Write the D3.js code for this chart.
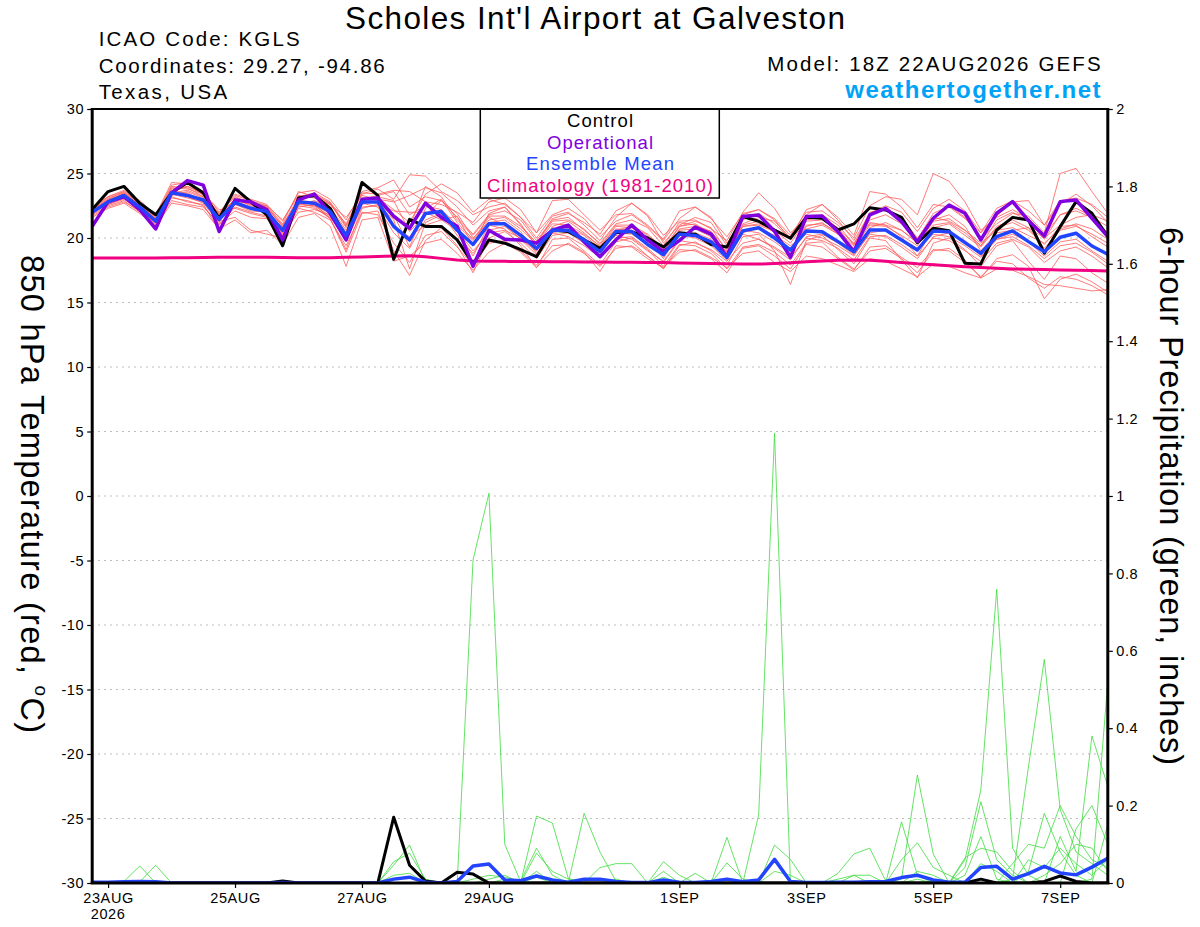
<!DOCTYPE html>
<html>
<head>
<meta charset="utf-8">
<script src="https://cdn.jsdelivr.net/npm/d3@7"></script>
<style>
  body { margin: 0; background: #fff; }
  svg { display: block; }
  text { font-family: "Liberation Sans", Arial, Helvetica, sans-serif; }
</style>
</head>
<body>
<svg id="chart" width="1200" height="927"></svg>
<script>

// model run 18Z 22AUG2026, 6-hourly steps out to 384h
var runStart = Date.UTC(2026, 7, 22, 18);
var stepCount = 65;

// 850 hPa temperature (C)
var tempControl = [22.2, 23.6, 24.0, 22.7, 21.8, 23.5, 24.3, 23.5, 21.5, 23.85,
  22.8, 21.8, 19.4, 23.1, 23.3, 22.3, 20.0, 24.3, 23.3, 18.35,
  21.45, 20.9, 20.9, 19.85, 18.0, 19.85, 19.6, 19.1, 18.55, 20.6,
  20.5, 19.85, 19.2, 20.4, 20.5, 20.0, 19.3, 20.4, 20.3, 19.5,
  19.3, 21.66, 21.3, 20.62, 19.98, 21.6, 21.53, 20.62, 21.09, 22.35,
  22.17, 21.6, 19.64, 20.75, 20.57, 18.04, 17.99, 20.62, 21.6, 21.4,
  18.82, 20.88, 22.82, 21.92, 20.11];

var tempOper = [20.9, 22.8, 23.2, 22.2, 20.7, 23.5, 24.45, 24.1, 20.5, 22.95,
  22.8, 22.2, 19.85, 22.95, 23.4, 21.9, 19.85, 23.0, 23.1, 21.7,
  20.75, 22.7, 21.6, 20.9, 17.8, 20.6, 19.9, 19.85, 19.6, 20.6,
  21.0, 19.7, 18.55, 19.85, 21.0, 19.85, 18.95, 19.8, 20.85, 20.3,
  18.55, 21.66, 21.79, 20.52, 18.5, 21.66, 21.71, 20.49, 18.94, 21.79,
  22.3, 21.27, 19.72, 21.53, 22.56, 21.92, 19.85, 21.92, 22.82, 21.35,
  20.16, 22.82, 22.95, 21.53, 20.11];

var tempMean = [22.0, 22.8, 23.3, 22.4, 21.3, 23.5, 23.3, 22.95, 21.45, 22.75,
  22.3, 22.05, 20.6, 22.8, 22.7, 22.05, 20.2, 22.8, 22.8, 20.9,
  19.85, 21.9, 22.05, 20.6, 19.5, 21.1, 21.1, 20.2, 19.2, 20.6,
  20.6, 19.85, 18.95, 20.5, 20.5, 19.5, 18.7, 20.3, 20.2, 19.7,
  18.5, 20.55, 20.8, 20.0, 19.07, 20.55, 20.49, 19.72, 18.94, 20.62,
  20.62, 19.85, 19.07, 20.55, 20.49, 19.64, 18.82, 20.11, 20.55, 19.72,
  18.94, 20.06, 20.37, 19.38, 18.74];

var tempClim = [18.45, 18.45, 18.45, 18.45, 18.45, 18.46, 18.47, 18.48, 18.5, 18.5,
  18.5, 18.5, 18.48, 18.47, 18.46, 18.47, 18.5, 18.53, 18.57, 18.6,
  18.62, 18.55, 18.42, 18.3, 18.22, 18.2, 18.19, 18.18, 18.17, 18.16,
  18.15, 18.14, 18.13, 18.12, 18.12, 18.11, 18.1, 18.07, 18.05, 18.02,
  18.0, 17.98, 17.98, 18.02, 18.08, 18.15, 18.22, 18.28, 18.3, 18.27,
  18.2, 18.1, 18.0, 17.93, 17.85, 17.78, 17.72, 17.65, 17.6, 17.57,
  17.55, 17.52, 17.5, 17.48, 17.45];

// ensemble members, 850 hPa temperature
var tempMembers = [
  [22.1, 22.9, 23.4, 22.6, 21.5, 23.8, 24.0, 23.4, 21.8, 23.0, 22.6, 22.3, 20.9,
   23.2, 23.5, 22.8, 21.0, 23.4, 23.8, 23.0, 24.9, 24.8, 23.6, 22.9, 21.8,
   22.4, 22.7, 21.6, 20.4, 21.8, 22.3, 21.5, 20.1, 21.3, 21.8, 20.9, 19.8,
   21.5, 22.4, 21.6, 19.6, 21.4, 21.9, 21.1, 19.9, 21.8, 22.6, 21.4, 19.8,
   21.9, 22.5, 22.0, 20.5, 22.3, 23.0, 22.1, 20.4, 21.7, 22.8, 22.9, 21.0,
   22.6, 23.4, 22.5, 21.2],
  [21.8, 22.5, 22.9, 22.0, 21.0, 22.9, 22.6, 22.4, 21.1, 22.1, 21.6, 21.5, 20.0,
   22.3, 22.0, 21.4, 19.4, 22.0, 21.8, 19.6, 18.1, 20.2, 20.5, 19.3, 17.9,
   19.6, 19.8, 19.0, 17.9, 19.4, 19.5, 18.8, 17.8, 19.2, 19.4, 18.6, 17.7,
   19.1, 19.0, 18.4, 17.3, 19.2, 19.4, 18.6, 17.6, 19.5, 19.3, 18.4, 17.5,
   19.3, 19.4, 18.5, 17.7, 19.1, 19.0, 18.1, 17.0, 18.2, 18.0, 16.9, 16.1,
   17.0, 16.8, 16.3, 15.6],
  [22.3, 23.1, 23.5, 22.5, 21.2, 23.6, 23.2, 22.7, 21.2, 23.1, 22.8, 22.4, 21.0,
   23.0, 22.5, 21.7, 19.8, 22.6, 23.0, 21.8, 19.3, 22.3, 23.0, 21.2, 19.9,
   21.6, 21.0, 19.9, 18.7, 20.9, 21.3, 20.4, 19.3, 20.9, 20.8, 19.9, 18.4,
   20.6, 20.7, 20.1, 18.9, 21.0, 21.3, 20.4, 18.7, 20.9, 21.2, 20.3, 19.4,
   21.2, 21.0, 20.1, 18.6, 20.8, 21.1, 20.2, 19.3, 20.8, 21.2, 20.6, 19.5,
   20.9, 21.0, 20.1, 19.3],
  [21.9, 22.7, 23.1, 22.3, 21.4, 23.3, 23.6, 23.1, 21.6, 22.6, 22.1, 22.0, 20.8,
   22.6, 22.9, 22.4, 20.6, 23.0, 23.1, 22.2, 21.2, 23.4, 24.2, 23.5, 22.0,
   23.0, 22.6, 21.6, 20.0, 21.7, 22.0, 21.0, 19.8, 21.6, 22.7, 21.7, 19.6,
   21.0, 21.6, 21.2, 19.4, 21.8, 22.2, 21.5, 20.2, 22.0, 22.1, 21.2, 20.0,
   22.5, 23.2, 23.0, 21.8, 25.0, 24.4, 22.8, 20.6, 21.6, 22.2, 21.5, 20.2,
   21.8, 22.3, 21.7, 20.4],
  [22.0, 22.6, 23.0, 22.2, 21.1, 23.4, 23.5, 22.9, 21.3, 21.6, 20.6, 20.3, 20.0,
   22.4, 22.6, 21.5, 18.9, 21.9, 22.1, 19.0, 17.1, 19.8, 20.8, 19.4, 17.3,
   20.0, 20.5, 19.6, 18.4, 20.2, 20.4, 19.6, 18.5, 20.0, 19.7, 18.6, 17.6,
   19.4, 19.7, 19.0, 17.9, 20.1, 20.3, 19.0, 16.4, 19.8, 20.2, 19.1, 18.0,
   20.0, 19.8, 18.3, 16.9, 19.6, 20.0, 19.1, 17.8, 19.4, 19.8, 18.2, 16.8,
   18.6, 18.4, 17.3, 16.5],
  [22.2, 23.0, 23.6, 22.8, 21.7, 24.1, 24.3, 23.6, 22.0, 23.4, 23.0, 22.6, 21.3,
   23.5, 23.7, 23.0, 21.4, 23.6, 23.9, 24.5, 22.4, 23.2, 22.9, 21.6, 20.3,
   21.8, 22.1, 21.4, 19.8, 21.4, 21.6, 20.6, 19.6, 21.1, 21.4, 20.8, 19.4,
   21.2, 21.0, 20.5, 19.1, 21.1, 21.6, 21.3, 20.0, 21.3, 21.4, 20.7, 19.6,
   21.4, 21.8, 21.1, 19.9, 21.9, 22.5, 21.6, 19.9, 21.1, 21.9, 21.7, 20.4,
   25.0, 25.4, 23.6, 21.9],
  [21.7, 22.4, 22.8, 22.1, 21.2, 23.1, 22.9, 22.5, 21.0, 22.4, 22.0, 21.7, 20.2,
   22.0, 22.2, 21.8, 19.8, 22.4, 22.5, 20.8, 20.1, 21.0, 21.4, 20.6, 19.0,
   20.4, 20.6, 20.0, 19.0, 20.4, 20.1, 19.4, 18.5, 20.0, 20.1, 19.2, 18.1,
   19.8, 19.6, 19.1, 18.2, 19.6, 19.9, 19.3, 18.5, 20.0, 19.8, 19.2, 18.3,
   20.1, 20.2, 19.5, 18.6, 20.0, 19.8, 19.0, 18.2, 19.6, 19.9, 19.3, 18.1,
   19.0, 19.3, 18.6, 17.7],
  [22.4, 23.2, 23.7, 22.9, 21.8, 24.3, 24.2, 23.3, 21.9, 23.2, 22.7, 22.5, 21.4,
   23.3, 23.1, 22.6, 21.6, 23.3, 23.0, 22.8, 23.3, 23.9, 23.5, 22.4, 21.0,
   22.1, 22.4, 21.0, 19.6, 21.5, 21.9, 21.2, 20.3, 22.1, 22.7, 21.8, 20.2,
   21.3, 21.4, 20.7, 19.8, 22.0, 23.5, 22.3, 20.4, 21.5, 21.8, 21.0, 19.5,
   22.0, 22.3, 21.6, 20.0, 21.6, 21.3, 20.6, 19.4, 21.4, 22.0, 21.3, 19.9,
   21.8, 22.1, 21.6, 20.9],
  [22.0, 22.7, 23.2, 22.3, 21.0, 23.2, 22.8, 22.6, 20.6, 22.6, 22.3, 22.0, 20.3,
   22.7, 22.4, 21.5, 19.1, 22.3, 22.6, 21.4, 17.6, 21.2, 21.8, 20.5, 18.6,
   21.0, 20.7, 19.4, 17.7, 19.9, 20.0, 19.0, 17.9, 19.7, 20.0, 19.1, 17.8,
   19.5, 19.4, 18.8, 17.6, 19.3, 19.5, 18.9, 17.9, 19.6, 19.7, 18.5, 17.6,
   19.0, 19.2, 18.4, 17.3, 19.0, 19.2, 18.3, 16.9, 18.4, 18.7, 17.8, 15.3,
   16.8, 17.2, 16.6, 15.8],
  [22.1, 22.9, 23.3, 22.5, 21.4, 23.7, 23.4, 23.0, 21.5, 23.0, 22.5, 22.2, 20.7,
   22.9, 22.8, 22.3, 20.4, 23.0, 23.3, 23.6, 21.8, 22.5, 22.2, 21.0, 19.8,
   21.4, 21.6, 20.7, 19.5, 21.1, 21.0, 20.3, 19.4, 20.7, 20.6, 19.6, 18.9,
   20.9, 21.3, 20.8, 19.0, 20.6, 20.4, 19.7, 18.8, 20.7, 21.0, 20.3, 19.2,
   21.0, 20.9, 20.2, 19.4, 21.3, 21.5, 20.6, 19.6, 20.6, 20.8, 20.2, 19.6,
   20.7, 21.1, 20.7, 19.9],
  [21.6, 22.3, 22.7, 21.9, 20.9, 22.7, 22.5, 22.2, 20.7, 21.4, 20.4, 20.6, 19.5,
   21.6, 21.9, 20.9, 17.8, 21.4, 21.6, 18.2, 18.6, 19.6, 19.9, 18.8, 17.5,
   18.9, 19.6, 18.9, 17.7, 19.0, 19.6, 18.9, 17.4, 19.4, 19.3, 18.4, 17.7,
   18.9, 19.1, 18.5, 17.7, 18.8, 19.0, 18.1, 17.4, 18.6, 18.4, 17.9, 17.4,
   18.4, 18.2, 17.6, 17.0, 18.0, 17.8, 17.3, 16.9, 17.6, 17.5, 17.0, 16.4,
   16.3, 16.1, 15.9, 16.0],
  [22.3, 23.2, 23.6, 22.7, 21.6, 24.0, 23.9, 23.2, 21.9, 23.3, 22.9, 22.5, 21.1,
   23.6, 23.2, 22.6, 21.1, 23.5, 23.4, 23.7, 23.6, 22.8, 22.6, 22.0, 21.2,
   22.8, 23.1, 22.2, 20.4, 22.9, 23.0, 21.8, 20.6, 21.8, 21.9, 21.0, 19.9,
   22.1, 22.4, 21.5, 20.1, 21.9, 22.2, 21.4, 19.9, 22.2, 22.6, 21.6, 20.2,
   23.6, 23.4, 22.4, 20.8, 22.6, 22.4, 21.5, 20.4, 22.3, 22.9, 22.1, 21.0,
   22.9, 23.1, 22.6, 21.6],
  [21.9, 22.6, 23.1, 22.4, 21.3, 23.5, 23.7, 23.2, 21.7, 22.9, 22.6, 21.9, 20.5,
   22.5, 22.3, 21.6, 20.0, 22.6, 23.2, 22.9, 20.5, 21.8, 22.9, 21.9, 20.0,
   21.2, 21.4, 20.5, 18.8, 20.4, 20.7, 20.0, 18.7, 20.6, 20.9, 20.2, 19.1,
   20.2, 20.0, 19.4, 18.3, 20.4, 20.8, 20.2, 19.4, 20.3, 20.0, 19.4, 18.6,
   20.4, 20.6, 19.8, 19.2, 20.3, 20.1, 19.4, 18.5, 19.9, 20.3, 19.7, 18.6,
   19.7, 19.9, 19.0, 18.2],
  [22.2, 23.0, 23.4, 22.6, 21.5, 23.9, 23.8, 23.4, 22.2, 22.3, 21.9, 21.6, 20.4,
   23.1, 23.4, 22.7, 20.9, 22.9, 22.7, 22.1, 22.0, 22.0, 21.4, 21.7, 19.4,
   21.9, 22.4, 21.1, 19.3, 20.8, 20.5, 19.7, 18.9, 20.4, 20.3, 19.5, 18.6,
   20.7, 20.9, 20.5, 18.7, 20.9, 21.1, 20.6, 19.6, 21.4, 21.6, 20.8, 19.0,
   20.8, 21.2, 20.6, 19.7, 21.4, 21.8, 20.9, 19.0, 20.4, 20.6, 20.8, 20.0,
   21.0, 21.6, 21.8, 21.3],
  [22.0, 22.8, 23.2, 22.4, 21.2, 23.4, 23.1, 22.8, 21.4, 22.8, 22.4, 22.1, 20.6,
   22.6, 22.5, 21.9, 20.3, 22.7, 22.4, 20.4, 19.2, 21.4, 21.9, 20.2, 18.8,
   20.6, 20.9, 19.9, 19.0, 20.6, 20.8, 20.2, 19.2, 20.2, 19.9, 19.0, 18.2,
   19.9, 20.4, 19.9, 18.6, 20.3, 19.9, 19.2, 18.3, 20.1, 20.3, 19.6, 18.7,
   20.3, 20.1, 19.3, 18.4, 20.1, 20.4, 19.8, 18.6, 19.9, 20.1, 19.4, 18.4,
   19.4, 19.6, 18.9, 18.0],
  [22.1, 22.8, 23.5, 22.7, 21.4, 23.6, 24.0, 23.5, 21.8, 23.0, 22.7, 22.4, 20.9,
   23.0, 23.3, 22.7, 20.8, 23.1, 22.9, 21.5, 20.8, 24.0, 23.2, 21.4, 20.2,
   21.7, 21.7, 20.9, 19.6, 21.3, 21.4, 20.7, 19.5, 21.0, 21.0, 20.3, 19.2,
   20.9, 21.1, 20.3, 18.9, 20.9, 21.0, 20.5, 19.0, 21.0, 21.1, 20.5, 19.5,
   21.1, 21.0, 20.6, 19.6, 21.0, 21.2, 20.4, 19.4, 20.9, 21.4, 20.8, 19.2,
   20.6, 20.9, 20.3, 19.6]
];

// 6-hour precipitation (inches)
var precipControl = [0, 0, 0, 0, 0, 0, 0, 0, 0, 0,
  0, 0, 0.005, 0, 0, 0, 0, 0, 0, 0.17,
  0.046, 0.005, 0, 0.028, 0.023, 0, 0, 0, 0, 0,
  0, 0, 0, 0, 0, 0, 0, 0, 0, 0,
  0, 0, 0, 0, 0, 0, 0, 0, 0, 0,
  0, 0, 0, 0, 0, 0, 0.01, 0, 0, 0,
  0.004, 0.018, 0.004, 0, 0];

var precipMean = [0.002, 0.002, 0.003, 0.004, 0.003, 0, 0, 0, 0, 0,
  0, 0, 0.001, 0, 0, 0, 0, 0, 0, 0.01,
  0.015, 0.002, 0, 0.004, 0.044, 0.049, 0.008, 0.006, 0.018, 0.008,
  0.002, 0.01, 0.01, 0.004, 0.001, 0.001, 0.008, 0.002, 0.001, 0.004,
  0.01, 0.003, 0.008, 0.061, 0.004, 0.001, 0.001, 0.002, 0.002, 0.003,
  0.004, 0.014, 0.02, 0.008, 0.002, 0.002, 0.04, 0.043, 0.01, 0.024,
  0.043, 0.026, 0.021, 0.041, 0.064];

var precipMembers = [
  [0, 0, 0.004, 0.044, 0, 0, 0, 0, 0, 0,
   0, 0, 0, 0, 0, 0, 0, 0, 0, 0,
   0, 0, 0, 0, 0.835, 1.007, 0.10, 0.003, 0, 0,
   0, 0, 0, 0, 0, 0, 0.03, 0, 0.025, 0,
   0, 0, 0, 0, 0, 0, 0, 0, 0.02, 0,
   0, 0, 0, 0, 0, 0.04, 0.21, 0.06, 0.02, 0,
   0, 0, 0, 0.01, 0.52],
  [0, 0, 0, 0.003, 0.046, 0, 0, 0, 0, 0,
   0, 0, 0, 0, 0, 0, 0, 0, 0, 0,
   0, 0, 0, 0, 0, 0, 0, 0, 0, 0,
   0, 0, 0, 0, 0, 0, 0, 0, 0, 0,
   0, 0, 0.176, 1.162, 0.003, 0, 0, 0, 0, 0,
   0, 0.06, 0.104, 0.04, 0.02, 0, 0, 0, 0, 0,
   0, 0.12, 0.03, 0.38, 0.25],
  [0, 0, 0, 0, 0, 0, 0, 0, 0, 0,
   0, 0, 0, 0, 0, 0, 0, 0, 0, 0.046,
   0.098, 0.003, 0, 0, 0, 0, 0, 0, 0.173, 0.155,
   0.012, 0, 0, 0, 0, 0, 0, 0, 0, 0,
   0, 0, 0, 0, 0, 0, 0, 0, 0, 0,
   0, 0, 0, 0, 0, 0.06, 0.24, 0.759, 0.09, 0.02,
   0, 0, 0, 0, 0],
  [0, 0, 0, 0, 0, 0, 0, 0, 0, 0,
   0, 0, 0, 0, 0, 0, 0, 0, 0, 0.055,
   0.077, 0.01, 0, 0, 0, 0, 0, 0, 0, 0,
   0, 0.18, 0.08, 0.005, 0, 0, 0, 0, 0, 0,
   0, 0, 0, 0, 0, 0, 0, 0, 0, 0,
   0, 0.01, 0.279, 0.075, 0, 0, 0, 0, 0.01, 0.3,
   0.578, 0.19, 0.08, 0.05, 0.02],
  [0, 0, 0, 0, 0, 0, 0, 0, 0, 0,
   0, 0, 0, 0, 0, 0, 0, 0, 0, 0.02,
   0.025, 0, 0, 0, 0.01, 0.02, 0.015, 0.005, 0.09, 0.02,
   0, 0, 0, 0, 0, 0, 0, 0, 0, 0,
   0.118, 0, 0, 0, 0, 0, 0, 0, 0, 0,
   0, 0.158, 0.02, 0, 0, 0, 0, 0, 0.05, 0.1,
   0.09, 0.2, 0.12, 0.06, 0.04],
  [0, 0, 0, 0, 0, 0, 0, 0, 0, 0,
   0, 0, 0, 0, 0, 0, 0, 0, 0, 0,
   0, 0, 0, 0, 0, 0, 0, 0, 0.077, 0.03,
   0.01, 0, 0.04, 0.05, 0.05, 0, 0.055, 0.02, 0, 0,
   0.052, 0.01, 0, 0.098, 0.061, 0, 0, 0.025, 0.075, 0.09,
   0.006, 0, 0, 0, 0, 0, 0, 0, 0, 0,
   0, 0, 0.14, 0.2, 0.1],
  [0, 0, 0, 0, 0, 0, 0, 0, 0, 0,
   0, 0, 0, 0, 0, 0, 0, 0, 0, 0,
   0, 0, 0, 0, 0, 0, 0, 0, 0, 0,
   0, 0, 0, 0, 0, 0, 0, 0, 0, 0,
   0, 0, 0, 0.03, 0.02, 0, 0, 0, 0, 0,
   0, 0, 0, 0, 0, 0.065, 0.09, 0.08, 0.03, 0,
   0.02, 0.05, 0.1, 0.09, 0.03],
  [0, 0, 0, 0, 0, 0, 0, 0, 0, 0,
   0, 0, 0, 0, 0, 0, 0, 0, 0, 0,
   0, 0, 0, 0, 0, 0.01, 0.02, 0, 0.03, 0,
   0, 0, 0, 0.01, 0, 0, 0.015, 0, 0, 0,
   0, 0, 0, 0, 0, 0, 0, 0.01, 0.02, 0.02,
   0, 0, 0.03, 0.02, 0, 0, 0.05, 0.03, 0, 0.06,
   0.04, 0.09, 0.05, 0.02, 0.06],
  [0, 0, 0, 0, 0, 0, 0, 0, 0, 0,
   0, 0, 0, 0, 0, 0, 0, 0, 0, 0,
   0, 0, 0, 0, 0, 0, 0.01, 0, 0.015, 0,
   0, 0, 0, 0, 0, 0, 0, 0, 0, 0,
   0, 0, 0, 0, 0, 0, 0, 0, 0, 0,
   0, 0, 0.01, 0, 0, 0.02, 0.12, 0.01, 0, 0.03,
   0.18, 0.08, 0.02, 0, 0.15]
];

// axis ticks
var tempTicks = [-30, -25, -20, -15, -10, -5, 0, 5, 10, 15, 20, 25, 30];
var gridTemps = [-25, -20, -15, -10, -5, 0, 5, 10, 15, 20, 25];
var precipTicks = [0, 0.2, 0.4, 0.6, 0.8, 1, 1.2, 1.4, 1.6, 1.8, 2];
var dateTicks = ["2026-08-23", "2026-08-25", "2026-08-27", "2026-08-29",
                 "2026-09-01", "2026-09-03", "2026-09-05", "2026-09-07"];
var dateLabels = ["23AUG", "25AUG", "27AUG", "29AUG", "1SEP", "3SEP", "5SEP", "7SEP"];

var legendItems = [
  { text: "Control", color: "#000000", len: 66 },
  { text: "Operational", color: "#8000e0", len: 106 },
  { text: "Ensemble Mean", color: "#2244ff", len: 148 },
  { text: "Climatology (1981-2010)", color: "#f00080", len: 226 }
];

(function () {
  var times = d3.range(stepCount).map(function (i) {
    return new Date(runStart + i * 6 * 3600 * 1000);
  });

  var pLeft = 92.2, pRight = 1107.8, pTop = 109, pBottom = 883;

  var svg = d3.select("#chart");
  svg.append("rect").attr("width", 1200).attr("height", 927).attr("fill", "#fff");

  var x = d3.scaleUtc().domain([times[0], times[stepCount - 1]]).range([pLeft, pRight]);
  var yT = d3.scaleLinear().domain([-30, 30]).range([pBottom, pTop]);
  var yP = d3.scaleLinear().domain([0, 2]).range([pBottom, pTop]);

  // dotted grid on the temperature axis
  svg.append("g").selectAll("line").data(gridTemps).join("line")
    .attr("x1", pLeft).attr("x2", pRight)
    .attr("y1", function (d) { return yT(d); })
    .attr("y2", function (d) { return yT(d); })
    .attr("stroke", "#a8a8a8").attr("stroke-width", 1)
    .attr("stroke-dasharray", "1.5,4.5");

  svg.append("clipPath").attr("id", "plotclip").append("rect")
    .attr("x", pLeft).attr("y", pTop).attr("width", pRight - pLeft).attr("height", pBottom - pTop);
  var plot = svg.append("g").attr("clip-path", "url(#plotclip)");

  var lineT = d3.line().x(function (d, i) { return x(times[i]); }).y(function (d) { return yT(d); });
  var lineP = d3.line().x(function (d, i) { return x(times[i]); }).y(function (d) { return yP(d); });

  plot.selectAll(".tmem").data(tempMembers).join("path").attr("class", "tmem")
    .attr("d", lineT).attr("fill", "none").attr("stroke", "#ff5a5a").attr("stroke-width", 0.8);
  plot.selectAll(".pmem").data(precipMembers).join("path").attr("class", "pmem")
    .attr("d", lineP).attr("fill", "none").attr("stroke", "#3ddc3d").attr("stroke-width", 0.8);

  function drawLine(data, gen, color, width) {
    plot.append("path").datum(data).attr("d", gen)
      .attr("fill", "none").attr("stroke", color).attr("stroke-width", width)
      .attr("stroke-linejoin", "round");
  }
  drawLine(tempClim, lineT, "#f00080", 3);
  drawLine(precipControl, lineP, "#000", 3);
  drawLine(tempControl, lineT, "#000", 3);
  drawLine(tempOper, lineT, "#8000e0", 3.5);
  drawLine(tempMean, lineT, "#2244ff", 3.5);
  drawLine(precipMean, lineP, "#2244ff", 3.5);

  // legend box
  var lg = svg.append("g");
  lg.append("rect").attr("x", 480.3).attr("y", pTop).attr("width", 239).attr("height", 89)
    .attr("fill", "#fff").attr("stroke", "#000").attr("stroke-width", 1.5);
  lg.selectAll("text").data(legendItems).join("text")
    .attr("x", function (d) { return 600 - d.len / 2; })
    .attr("y", function (d, i) { return 127 + i * 21.6; })
    .attr("font-size", 18.5)
    .attr("fill", function (d) { return d.color; })
    .attr("textLength", function (d) { return d.len; })
    .attr("lengthAdjust", "spacing")
    .text(function (d) { return d.text; });

  // axes
  var axL = svg.append("g").attr("transform", "translate(" + pLeft + ",0)")
    .call(d3.axisLeft(yT).tickValues(tempTicks).tickSize(5).tickPadding(3)
      .tickFormat(function (d) { return String(d); }));
  var axR = svg.append("g").attr("transform", "translate(" + pRight + ",0)")
    .call(d3.axisRight(yP).tickValues(precipTicks).tickSize(5).tickPadding(3.5)
      .tickFormat(function (d) { return String(d); }));
  var axB = svg.append("g").attr("transform", "translate(0," + pBottom + ")")
    .call(d3.axisBottom(x).tickValues(dateTicks.map(function (s) { return new Date(s + "T00:00:00Z"); }))
      .tickSize(5).tickPadding(5)
      .tickFormat(function (d, i) { return dateLabels[i]; }));

  [axL, axR, axB].forEach(function (ax) {
    ax.select(".domain").remove();
    ax.attr("font-family", null).attr("font-size", null);
    ax.selectAll("text").attr("font-size", 14.5).attr("letter-spacing", 0.6).attr("fill", "#000");
    ax.selectAll("line").attr("stroke", "#000").attr("stroke-width", 1.2);
  });
  svg.append("text").attr("x", x(new Date("2026-08-23T00:00:00Z"))).attr("y", 919)
    .attr("text-anchor", "middle").attr("font-size", 14.5).attr("letter-spacing", 0.6)
    .text("2026");

  // frame
  svg.append("line").attr("x1", pLeft).attr("x2", pRight).attr("y1", pTop).attr("y2", pTop)
    .attr("stroke", "#000").attr("stroke-width", 2);
  svg.append("line").attr("x1", pLeft - 1.5).attr("x2", pRight + 1.5).attr("y1", pBottom).attr("y2", pBottom)
    .attr("stroke", "#000").attr("stroke-width", 3);
  svg.append("line").attr("x1", pLeft).attr("x2", pLeft).attr("y1", pTop - 1).attr("y2", pBottom)
    .attr("stroke", "#000").attr("stroke-width", 3);
  svg.append("line").attr("x1", pRight).attr("x2", pRight).attr("y1", pTop - 1).attr("y2", pBottom)
    .attr("stroke", "#000").attr("stroke-width", 3);

  // header texts
  function label(txt, xx, yy, size, len, opts) {
    var t = svg.append("text").attr("x", xx).attr("y", yy).attr("font-size", size)
      .attr("textLength", len).attr("lengthAdjust", "spacing").text(txt);
    if (opts) Object.keys(opts).forEach(function (k) { t.attr(k, opts[k]); });
    return t;
  }
  label("Scholes Int'l Airport at Galveston", 345, 28.5, 31.5, 500);
  label("ICAO Code: KGLS", 98.7, 45.7, 20.5, 201);
  label("Coordinates: 29.27, -94.86", 98.7, 72.7, 20.5, 286);
  label("Texas, USA", 98.7, 99.3, 20.5, 128.6);
  label("Model: 18Z 22AUG2026 GEFS", 767.2, 71, 20.5, 333.4);
  label("weathertogether.net", 845.3, 97.7, 24, 255.3, { "font-weight": "bold", fill: "#00a2f8" });

  // axis titles, both read top to bottom
  var tl = svg.append("text").attr("transform", "translate(21,494) rotate(90)")
    .attr("text-anchor", "middle").attr("font-size", 32.5)
    .attr("textLength", 478).attr("lengthAdjust", "spacing");
  tl.append("tspan").text("850 hPa Temperature (red, ");
  tl.append("tspan").attr("font-size", 19).attr("dy", -14).text("o");
  tl.append("tspan").attr("dy", 14).text("C)");

  svg.append("text").attr("transform", "translate(1160,496) rotate(90)")
    .attr("text-anchor", "middle").attr("font-size", 32.5)
    .attr("textLength", 538).attr("lengthAdjust", "spacing")
    .text("6-hour Precipitation (green, inches)");
})();

</script>
</body>
</html>
